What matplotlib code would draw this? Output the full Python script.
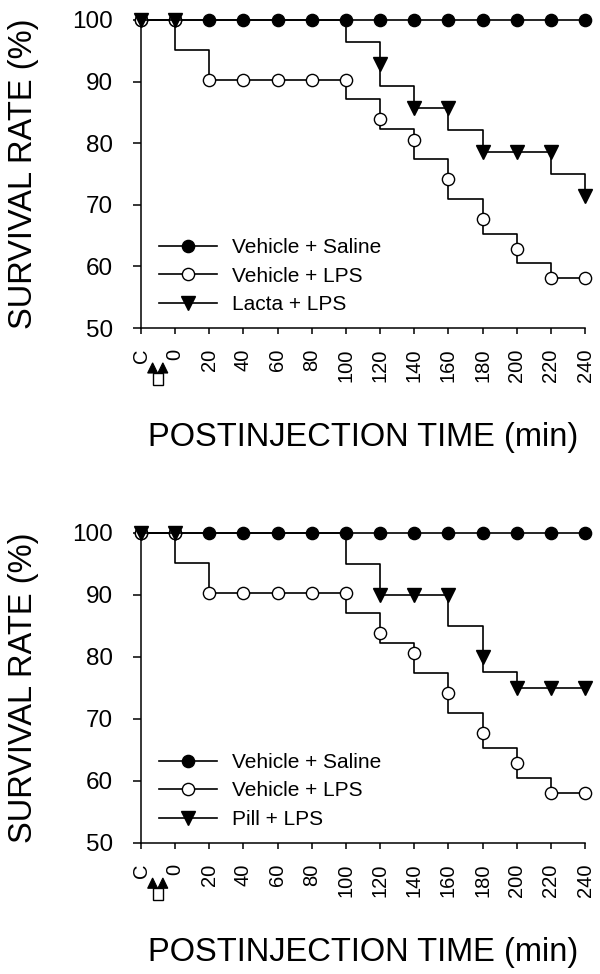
import numpy as np
import matplotlib
matplotlib.use("Agg")
import matplotlib.pyplot as plt
from matplotlib.lines import Line2D
from matplotlib.patches import Polygon, Rectangle
import matplotlib.transforms as mtransforms

plt.rcParams['font.family'] = ['Liberation Sans', 'DejaVu Sans']

# ---- data ----
time_pos = [-20, 0, 20, 40, 60, 80, 100, 120, 140, 160, 180, 200, 220, 240]
time_labels = ['C', '0', '20', '40', '60', '80', '100', '120', '140', '160', '180', '200', '220', '240']

saline = [100, 100, 100, 100, 100, 100, 100, 100, 100, 100, 100, 100, 100, 100]
vehicle_lps = [100, 100, 90.3, 90.3, 90.3, 90.3, 90.3, 83.9, 80.6, 74.2, 67.7, 62.9, 58.1, 58.1]
lacta_lps = [100, 100, 100, 100, 100, 100, 100, 92.9, 85.7, 85.7, 78.6, 78.6, 78.6, 71.4]
pill_lps = [100, 100, 100, 100, 100, 100, 100, 90, 90, 90, 80, 75, 75, 75]

# treated groups show no marker while hidden under the saline points
treat_marks = [0, 1, 7, 8, 9, 10, 11, 12, 13]

y_ticks = [50, 60, 70, 80, 90, 100]


def step_path(t, v):
    # vertical - horizontal - vertical connector, horizontal leg at half height
    xs, ys = [t[0]], [v[0]]
    for i in range(len(t) - 1):
        m = (v[i] + v[i + 1]) / 2.0
        xs += [t[i], t[i + 1], t[i + 1]]
        ys += [m, m, v[i + 1]]
    return xs, ys


def draw_panel(ax, treat, treat_name):
    lw = 1.2
    ms = 8.8
    t = np.array(time_pos)

    # saline
    ax.plot(*step_path(t, saline), color='black', lw=lw, zorder=3, clip_on=False)
    ax.plot(t, saline, 'o', color='black', ms=ms, zorder=4, clip_on=False)
    # vehicle + LPS
    ax.plot(*step_path(t, vehicle_lps), color='black', lw=lw, zorder=5, clip_on=False)
    ax.plot(t, vehicle_lps, 'o', mfc='white', mec='black', mew=1.0, ms=ms,
            zorder=6, clip_on=False)
    # treated + LPS
    ax.plot(*step_path(t, treat), color='black', lw=lw, zorder=7, clip_on=False)
    tm = np.array(treat)
    ax.plot(t[treat_marks], tm[treat_marks], 'v', color='black', ms=ms + 0.6,
            zorder=8, clip_on=False)

    ax.set_xlim(-20, 240)
    ax.set_ylim(50, 100)
    ax.spines['top'].set_visible(False)
    ax.spines['right'].set_visible(False)
    ax.spines['left'].set_linewidth(1.1)
    ax.spines['bottom'].set_linewidth(1.1)

    ax.set_yticks(y_ticks)
    ax.set_yticklabels([str(v) for v in y_ticks], fontsize=17.5)
    ax.tick_params(axis='y', length=6, width=1.1, pad=14)
    ax.set_xticks(time_pos)
    ax.set_xticklabels(time_labels, rotation=90, fontsize=14.5)
    ax.tick_params(axis='x', length=4, width=1.1, pad=11)

    ax.set_ylabel('SURVIVAL RATE (%)', fontsize=23.5)
    ax.yaxis.set_label_coords(-0.265, 0.5)
    ax.yaxis.label.set_va('center')
    ax.set_xlabel('POSTINJECTION TIME (min)', fontsize=23.5)
    ax.xaxis.set_label_coords(0.5, -0.354)
    ax.xaxis.label.set_va('center')

    handles = [
        Line2D([], [], color='black', lw=lw, marker='o', ms=ms),
        Line2D([], [], color='black', lw=lw, marker='o', ms=ms, mfc='white', mew=1.0),
        Line2D([], [], color='black', lw=lw, marker='v', ms=ms + 0.6),
    ]
    ax.legend(handles, ['Vehicle + Saline', 'Vehicle + LPS', treat_name],
              loc='lower left', bbox_to_anchor=(0.04, 0.045), frameon=False,
              fontsize=15, handlelength=2.8, handletextpad=0.7,
              labelspacing=0.46, borderpad=0, borderaxespad=0)

    # injection arrows under C / 0
    tr = mtransforms.blended_transform_factory(ax.transData, ax.transAxes)
    for xc in (-13.2, -7.2):
        ax.add_patch(Polygon([[xc - 2.9, -0.146], [xc + 2.9, -0.146], [xc, -0.113]],
                             closed=True, facecolor='black', edgecolor='black',
                             lw=0.8, transform=tr, clip_on=False))
    ax.add_patch(Rectangle((-13.2, -0.185), 6.0, 0.039, facecolor='white',
                           edgecolor='black', lw=1.0, transform=tr, clip_on=False))


fig = plt.figure(figsize=(6.0, 9.74), dpi=100)
ax1 = fig.add_axes([0.235, 0.6632, 0.74, 0.3163])
ax2 = fig.add_axes([0.235, 0.1345, 0.74, 0.3183])

draw_panel(ax1, lacta_lps, 'Lacta + LPS')
draw_panel(ax2, pill_lps, 'Pill + LPS')

fig.savefig('out.png', dpi=100)
